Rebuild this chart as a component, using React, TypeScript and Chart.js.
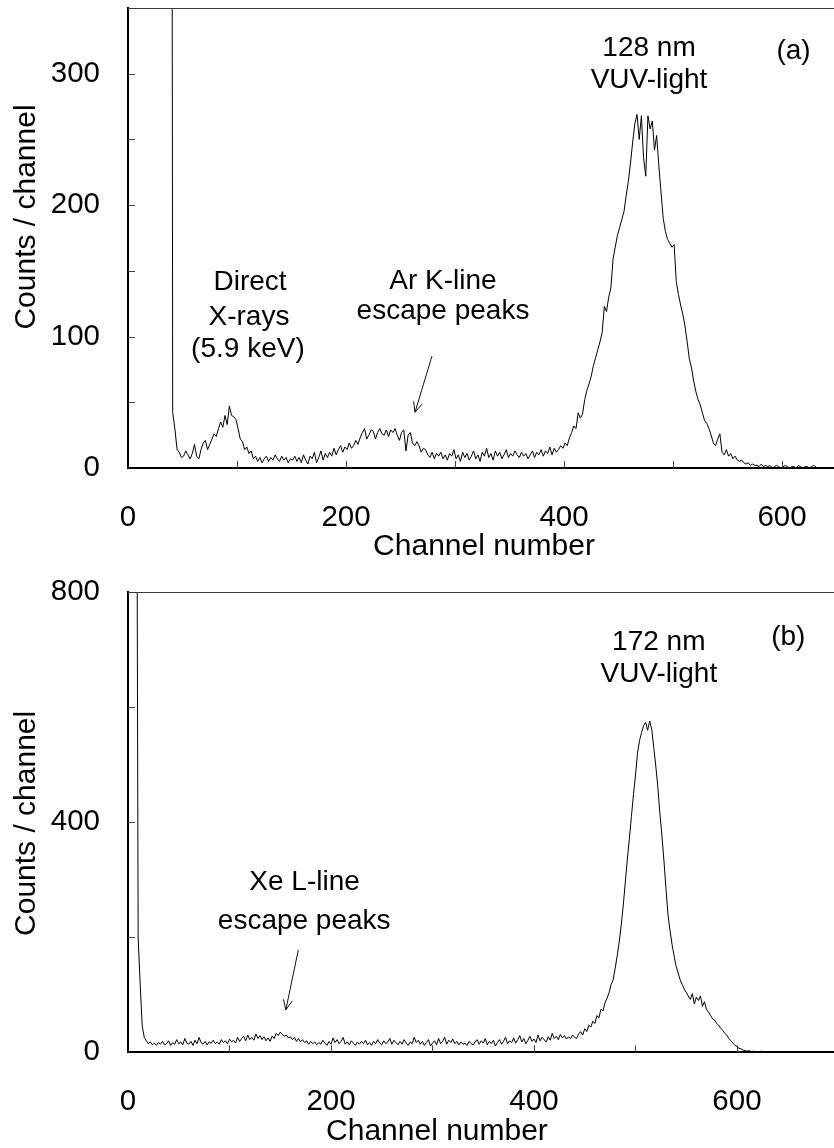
import React, { useEffect, useRef } from "react";
import { Chart, registerables } from "chart.js";

Chart.register(...registerables);

const FONT = "'Liberation Sans', Arial, Helvetica, sans-serif";

// ---------------- Panel (a) ----------------
const channelStartA = 39;
const channelStepA = 2;
const countsA = [
  1500, 42, 30, 14, 12, 8, 9, 13, 10, 7,
  11, 18, 9, 7, 14, 19, 21, 14, 18, 22,
  26, 24, 30, 35, 31, 40, 33, 47, 40, 39,
  37, 30, 22, 20, 14, 16, 11, 13, 7, 9,
  5, 8, 4, 7, 9, 5, 8, 6, 10, 7,
  5, 9, 6, 8, 4, 7, 6, 9, 5, 8,
  4, 10, 6, 3, 9, 7, 12, 4, 8, 13,
  6, 11, 8, 12, 9, 15, 10, 14, 17, 12,
  16, 14, 19, 15, 17, 21, 18, 23, 27, 30,
  22, 25, 29, 28, 22, 27, 30, 26, 25, 29,
  24, 29, 27, 30, 25, 21, 27, 29, 13, 25,
  27, 19, 17, 20, 17, 12, 15, 14, 10, 8,
  12, 7, 11, 9, 12, 7, 10, 6, 11, 9,
  14, 7, 10, 5, 12, 8, 11, 6, 9, 13,
  7, 10, 5, 12, 9, 15, 8, 11, 6, 13,
  9, 12, 7, 10, 14, 8, 11, 9, 13, 10,
  8, 12, 9, 11, 7, 10, 13, 8, 12, 10,
  14, 9, 13, 11, 16, 10, 15, 12, 14, 17,
  15, 19, 17, 23, 27, 32, 30, 42, 38, 41,
  52, 59, 64, 70, 78, 84, 90, 96, 103, 123,
  119, 130, 137, 159, 168, 177, 183, 189, 195, 207,
  218, 232, 248, 262, 269, 250, 268, 236, 222, 268,
  258, 264, 242, 253, 230, 210, 190, 180, 174, 171,
  168, 170, 142, 132, 124, 117, 108, 96, 83, 76,
  66, 58, 52, 48, 42, 36, 34, 30, 25, 19,
  17, 22, 26, 12, 10, 14, 9, 11, 7, 9,
  6, 5, 6, 4, 3, 4, 2, 3, 2, 2,
  1, 3, 1, 2, 1, 2, 0, 1, 2, 1,
  0, 1, 2, 1, 0, 1, 1, 0, 2, 1,
  0, 1, 1, 0, 1, 2, 1,
];
const xLabelsA = [0, 200, 400, 600];
const xMarksA = [100, 200, 300, 400, 500, 600];
const yLabelsA = [0, 100, 200, 300];
const yMarksA = [50, 100, 150, 200, 250, 300];

// ---------------- Panel (b) ----------------
const channelStartB = 8;
const channelStepB = 2;
const countsB = [
  1500, 200, 118, 46, 26, 20, 15, 18, 13, 16,
  12, 17, 14, 19, 13, 15, 20, 12, 17, 14,
  22, 15, 18, 13, 24, 16, 14, 19, 12, 21,
  15, 26, 17, 14, 19, 13, 18, 16, 21, 15,
  18, 14, 22, 17, 20, 15, 23, 18, 21, 16,
  26, 19, 24, 28, 20, 30, 22, 26, 21, 32,
  24, 29, 22, 27, 20, 25, 19, 28, 24, 33,
  29, 35, 31, 28, 30, 25, 27, 22, 26, 19,
  24, 18, 22, 17, 20, 14, 19, 15, 18, 13,
  17, 14, 21, 16, 12, 19, 14, 25, 17, 22,
  15, 19, 26, 14, 18, 13, 20, 16, 12, 18,
  14, 19, 15, 21, 13, 17, 12, 19, 15, 22,
  16, 13, 20, 15, 18, 24, 14, 21, 17, 13,
  19, 14, 22, 16, 12, 18, 15, 26, 17, 21,
  14, 19, 12, 17, 22, 11, 16, 20, 13, 24,
  15, 19, 26, 14, 21, 17, 23, 15, 19, 13,
  18, 14, 16, 12, 19, 15, 13, 18, 22, 14,
  20, 16, 24, 13, 19, 15, 21, 11, 17, 22,
  14, 19, 26, 15, 20, 17, 25, 16, 22, 29,
  18, 24, 15, 21, 28, 19, 23, 17, 30, 20,
  26, 22, 18, 27, 21, 33, 24, 28, 22, 31,
  25, 29, 23, 27, 24, 30, 26, 24, 32, 36,
  30, 41, 36, 47, 44, 54, 50, 64, 60, 75,
  72, 86, 94, 104, 118, 126, 146, 168, 192, 222,
  256, 296, 336, 372, 410, 448, 482, 520, 542, 556,
  568, 574, 560, 576, 562, 530, 498, 462, 416, 378,
  334, 286, 240, 212, 188, 168, 150, 138, 126, 118,
  110, 104, 98, 92, 102, 84, 96, 90, 98, 80,
  88, 74, 70, 64, 58, 56, 50, 47, 42, 38,
  33, 30, 24, 20, 16, 12, 10, 7, 6, 4,
  3, 2, 3, 1, 2, 1, 0, 1, 2, 0,
  1, 0, 1, 0, 0, 0, 0,
];
const xLabelsB = [0, 200, 400, 600];
const xMarksB = [100, 200, 300, 400, 500, 600];
const yLabelsB = [0, 400, 800];
const yMarksB = [200, 400, 600];

type Note = { text: string; x: number; y: number; size?: number };
type Arrow = { x1: number; y1: number; x2: number; y2: number };

interface PanelSpec {
  channelStart: number;
  channelStep: number;
  counts: number[];
  xMax: number;
  yMax: number;
  xLabels: number[];
  yLabels: number[];
  xMarks: number[];
  yMarks: number[];
  notes: Note[];
  arrow: Arrow;
  height: number;
  padTop: number;
  xAxisHeight: number;
  xTitleAt: number;
  xTitleGap: number;
  xTickPad: number;
  yTitleY: number;
}

const notesA: Note[] = [
  { text: "Direct", x: 112, y: 141 },
  { text: "X-rays", x: 111, y: 115 },
  { text: "(5.9 keV)", x: 110, y: 90 },
  { text: "Ar K-line", x: 289, y: 141.7 },
  { text: "escape peaks", x: 289, y: 118.9 },
  { text: "128 nm", x: 478, y: 319.3 },
  { text: "VUV-light", x: 478, y: 295.2 },
  { text: "(a)", x: 610.6, y: 316.7 },
];
const notesB: Note[] = [
  { text: "172 nm", x: 523, y: 712.7 },
  { text: "VUV-light", x: 523, y: 657 },
  { text: "(b)", x: 650.6, y: 722.4 },
  { text: "Xe L-line", x: 174, y: 295 },
  { text: "escape peaks", x: 173.6, y: 227 },
];

const panelA: PanelSpec = {
  channelStart: channelStartA,
  channelStep: channelStepA,
  counts: countsA,
  xMax: 647.7,
  yMax: 350,
  xLabels: xLabelsA,
  yLabels: yLabelsA,
  xMarks: xMarksA,
  yMarks: yMarksA,
  notes: notesA,
  arrow: { x1: 278.9, y1: 85.2, x2: 263.3, y2: 42.4 },
  height: 560,
  padTop: 8,
  xAxisHeight: 92,
  xTitleAt: 326.6,
  xTitleGap: 79,
  xTickPad: 32,
  yTitleY: 217,
};

const panelB: PanelSpec = {
  channelStart: channelStartB,
  channelStep: channelStepB,
  counts: countsB,
  xMax: 695.6,
  yMax: 800,
  xLabels: xLabelsB,
  yLabels: yLabelsB,
  xMarks: xMarksB,
  yMarks: yMarksB,
  notes: notesB,
  arrow: { x1: 167.8, y1: 178, x2: 155.5, y2: 73.6 },
  height: 588,
  padTop: 32.2,
  xAxisHeight: 95.7,
  xTitleAt: 304.4,
  xTitleGap: 79,
  xTickPad: 32,
  yTitleY: 263.4,
};

function drawArrow(ctx: CanvasRenderingContext2D, x1: number, y1: number, x2: number, y2: number) {
  const ang = Math.atan2(y2 - y1, x2 - x1);
  const L = 11;
  const s = 0.42;
  ctx.beginPath();
  ctx.moveTo(x1, y1);
  ctx.lineTo(x2, y2);
  ctx.moveTo(x2 - L * Math.cos(ang - s), y2 - L * Math.sin(ang - s));
  ctx.lineTo(x2, y2);
  ctx.lineTo(x2 - L * Math.cos(ang + s), y2 - L * Math.sin(ang + s));
  ctx.stroke();
}

function decorPlugin(p: PanelSpec) {
  return {
    id: "decor",
    afterDraw(chart: any) {
      const { ctx, chartArea: a, scales } = chart;
      const xs = scales.x;
      const ys = scales.y;
      ctx.save();
      ctx.lineWidth = 1;
      ctx.strokeStyle = "#3c3c3c";
      ctx.beginPath();
      ctx.moveTo(a.left, Math.round(a.top) + 0.5);
      ctx.lineTo(a.right, Math.round(a.top) + 0.5);
      ctx.stroke();
      ctx.strokeStyle = "#444";
      ctx.beginPath();
      for (const v of p.xMarks) {
        const px = Math.round(xs.getPixelForValue(v)) + 0.5;
        ctx.moveTo(px, a.bottom);
        ctx.lineTo(px, a.bottom - 7);
      }
      for (const v of p.yMarks) {
        const py = Math.round(ys.getPixelForValue(v)) + 0.5;
        ctx.moveTo(a.left, py);
        ctx.lineTo(a.left + 7, py);
      }
      ctx.stroke();
      ctx.fillStyle = "#000";
      ctx.textAlign = "center";
      ctx.textBaseline = "middle";
      for (const n of p.notes) {
        ctx.font = `${n.size || 28}px ${FONT}`;
        ctx.fillText(n.text, xs.getPixelForValue(n.x), ys.getPixelForValue(n.y));
      }
      ctx.strokeStyle = "#111";
      ctx.lineWidth = 1;
      drawArrow(
        ctx,
        xs.getPixelForValue(p.arrow.x1),
        ys.getPixelForValue(p.arrow.y1),
        xs.getPixelForValue(p.arrow.x2),
        ys.getPixelForValue(p.arrow.y2)
      );
      ctx.font = `30px ${FONT}`;
      ctx.fillText("Channel number", xs.getPixelForValue(p.xTitleAt), a.bottom + p.xTitleGap);
      ctx.translate(27, p.yTitleY);
      ctx.rotate(-Math.PI / 2);
      ctx.fillText("Counts / channel", 0, 0);
      ctx.restore();
    },
  };
}

function Panel({ spec, top }: { spec: PanelSpec; top: number }) {
  const ref = useRef<HTMLCanvasElement>(null);
  useEffect(() => {
    const points = spec.counts.map((c, i) => ({ x: spec.channelStart + i * spec.channelStep, y: c }));
    const tickFont = { size: 29.5, family: FONT };
    const chart = new Chart(ref.current as HTMLCanvasElement, {
      type: "line",
      data: {
        datasets: [
          {
            data: points,
            borderColor: "#000",
            borderWidth: 1,
            pointRadius: 0,
            tension: 0,
            fill: false,
          },
        ],
      },
      options: {
        responsive: false,
        maintainAspectRatio: false,
        animation: false,
        devicePixelRatio: 1,
        layout: { padding: { top: spec.padTop, left: 0, right: 0, bottom: 0 } },
        plugins: { legend: { display: false }, tooltip: { enabled: false } },
        scales: {
          x: {
            type: "linear",
            min: 0,
            max: spec.xMax,
            grid: { display: false, drawTicks: false },
            border: { display: true, color: "#000", width: 2 },
            ticks: { font: tickFont, color: "#000", padding: spec.xTickPad, maxRotation: 0, autoSkip: false, includeBounds: false },
            afterBuildTicks: (s: any) => {
              s.ticks = spec.xLabels.map((v) => ({ value: v }));
            },
            afterFit: (s: any) => {
              s.height = spec.xAxisHeight;
              s.paddingLeft = 0;
              s.paddingRight = 0;
              s.paddingTop = 0;
              s.paddingBottom = 0;
            },
          },
          y: {
            type: "linear",
            min: 0,
            max: spec.yMax,
            grid: { display: false, drawTicks: false },
            border: { display: true, color: "#000", width: 2 },
            ticks: { font: tickFont, color: "#000", padding: 28, includeBounds: false },
            afterBuildTicks: (s: any) => {
              s.ticks = spec.yLabels.map((v) => ({ value: v }));
            },
            afterFit: (s: any) => {
              s.width = 128;
              s.paddingLeft = 0;
              s.paddingRight = 0;
              s.paddingTop = 0;
              s.paddingBottom = 0;
            },
          },
        },
      },
      plugins: [decorPlugin(spec)],
    } as any);
    return () => chart.destroy();
  }, [spec]);
  return (
    <canvas
      ref={ref}
      width={834}
      height={spec.height}
      style={{ position: "absolute", left: 0, top, width: 834, height: spec.height, display: "block" }}
    />
  );
}

export default function App() {
  return (
    <div style={{ position: "absolute", left: 0, top: 0, width: 834, height: 1148, background: "#fff", overflow: "hidden" }}>
      <Panel spec={panelA} top={0} />
      <Panel spec={panelB} top={560} />
    </div>
  );
}
